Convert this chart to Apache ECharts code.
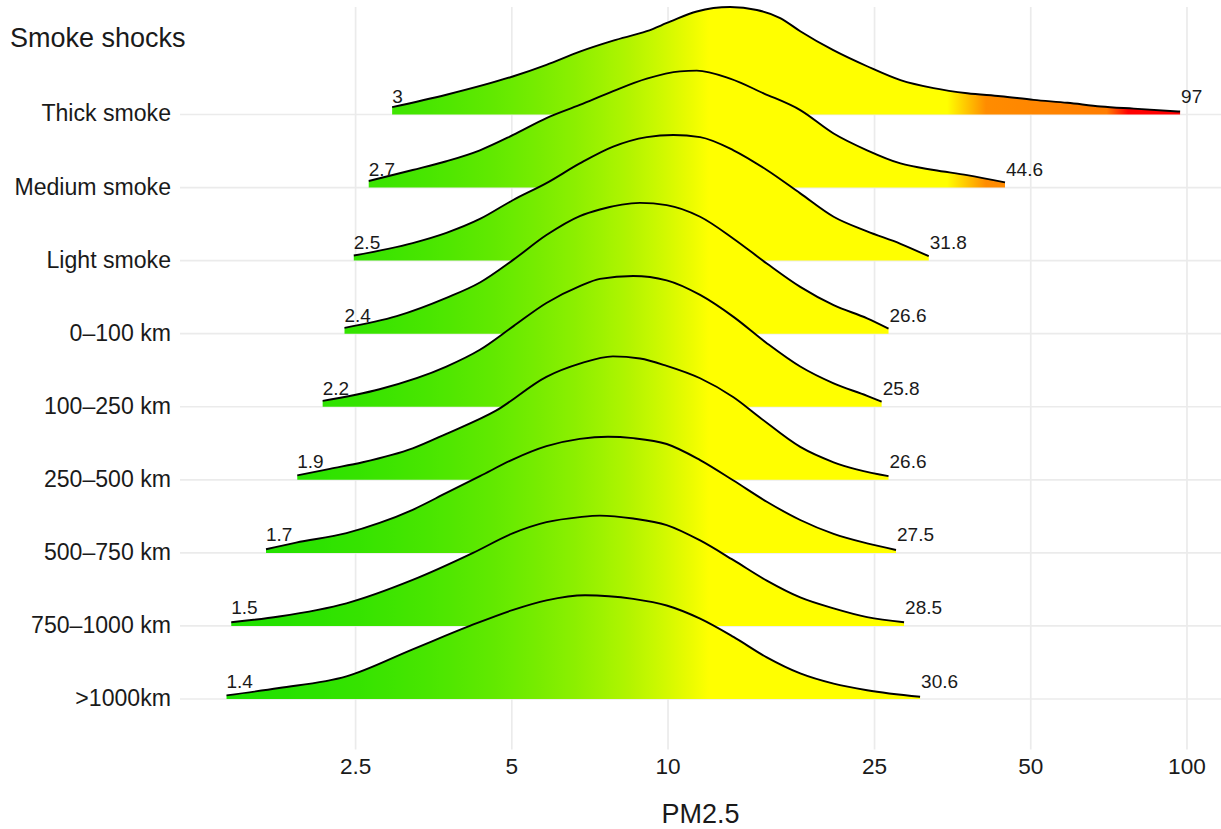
<!DOCTYPE html>
<html>
<head>
<meta charset="utf-8">
<script src="https://cdn.jsdelivr.net/npm/echarts@6/dist/echarts.min.js"></script>
<style>
html,body{margin:0;padding:0;background:#fff;}
#chart{width:1221px;height:829px;}
</style>
</head>
<body>
<div id="chart"></div>
<script>
// ---------- data ----------
const categories = ['Thick smoke','Medium smoke','Light smoke','0–100 km','100–250 km','250–500 km','500–750 km','750–1000 km','>1000km'];
const xTickValues = [2.5, 5, 10, 25, 50, 100];
const xTickLabels = ['2.5', '5', '10', '25', '50', '100'];
const minLabels = ['3','2.7','2.5','2.4','2.2','1.9','1.7','1.5','1.4'];
const maxLabels = ['97','44.6','31.8','26.6','25.8','26.6','27.5','28.5','30.6'];

// density outlines (PM2.5 value, ridge height in row units)
const thickX = [2.94, 3.74, 5.02, 5.83, 6.76, 7.84, 9.10, 10.09, 11.36, 13.17, 14.83, 16.45, 17.98, 20.82, 24.19, 28.05, 32.49, 37.73, 43.75, 50.66, 58.86, 68.23, 79.0, 97.0];
const thickH = [0.10, 0.27, 0.52, 0.68, 0.86, 1.01, 1.14, 1.27, 1.41, 1.47, 1.43, 1.32, 1.14, 0.88, 0.66, 0.47, 0.36, 0.29, 0.25, 0.20, 0.16, 0.11, 0.08, 0.04];
const mediumX = [2.65, 3.22, 3.74, 4.34, 5.03, 5.83, 6.76, 7.84, 9.10, 10.55, 11.36, 13.17, 15.28, 17.98, 20.85, 24.19, 28.05, 32.52, 37.7, 44.6];
const mediumH = [0.09, 0.24, 0.36, 0.51, 0.72, 0.95, 1.13, 1.32, 1.49, 1.59, 1.60, 1.49, 1.29, 1.06, 0.74, 0.51, 0.33, 0.24, 0.17, 0.07];
const lightX = [2.48, 3.22, 3.74, 4.34, 5.03, 5.83, 6.76, 7.84, 9.10, 10.24, 11.53, 13.37, 15.50, 17.98, 20.85, 24.19, 28.05, 31.8];
const lightH = [0.07, 0.24, 0.38, 0.57, 0.83, 1.06, 1.33, 1.56, 1.69, 1.72, 1.69, 1.51, 1.24, 0.92, 0.60, 0.40, 0.23, 0.06];
const km0X = [2.38, 3.00, 3.74, 4.34, 5.03, 5.83, 6.76, 7.39, 8.83, 9.94, 11.53, 13.37, 15.50, 17.98, 20.85, 24.19, 26.6];
const km0H = [0.08, 0.24, 0.49, 0.70, 1.01, 1.35, 1.61, 1.70, 1.79, 1.76, 1.60, 1.30, 0.96, 0.64, 0.39, 0.21, 0.07];
const km100X = [2.16, 2.78, 3.74, 4.34, 5.03, 5.83, 6.76, 7.39, 8.57, 9.94, 11.53, 13.37, 15.50, 17.98, 20.85, 24.19, 25.8];
const km100H = [0.08, 0.24, 0.55, 0.78, 1.10, 1.42, 1.65, 1.75, 1.79, 1.73, 1.53, 1.23, 0.87, 0.55, 0.32, 0.15, 0.07];
const km250X = [1.93, 2.23, 2.58, 3.22, 3.74, 4.67, 5.83, 6.76, 7.83, 8.83, 9.94, 11.53, 13.37, 15.05, 17.98, 20.85, 26.6];
const km250H = [0.06, 0.15, 0.24, 0.43, 0.63, 0.95, 1.41, 1.59, 1.69, 1.66, 1.56, 1.39, 1.13, 0.85, 0.45, 0.24, 0.05];
const km500X = [1.68, 1.92, 2.40, 2.78, 3.22, 3.74, 4.34, 5.03, 5.83, 6.76, 7.66, 8.57, 9.94, 11.53, 13.37, 15.50, 17.98, 20.85, 24.19, 27.5];
const km500H = [0.05, 0.14, 0.27, 0.41, 0.59, 0.82, 1.05, 1.28, 1.46, 1.56, 1.59, 1.57, 1.49, 1.27, 0.99, 0.70, 0.45, 0.26, 0.13, 0.04];
const km750X = [1.44, 1.78, 2.40, 3.22, 4.21, 5.03, 5.83, 6.76, 7.39, 8.57, 9.94, 11.53, 13.37, 15.50, 17.98, 20.85, 24.19, 28.5];
const km750H = [0.05, 0.13, 0.31, 0.63, 1.00, 1.27, 1.42, 1.49, 1.51, 1.47, 1.38, 1.17, 0.90, 0.62, 0.39, 0.24, 0.12, 0.05];
const km1000X = [1.41, 1.78, 2.40, 3.22, 4.15, 5.03, 5.83, 6.92, 8.57, 9.94, 11.53, 13.37, 15.50, 17.98, 20.85, 24.19, 30.6];
const km1000H = [0.05, 0.15, 0.31, 0.68, 1.00, 1.22, 1.35, 1.42, 1.37, 1.28, 1.10, 0.85, 0.57, 0.35, 0.21, 0.12, 0.03];

const ridgeX = [thickX, mediumX, lightX, km0X, km100X, km250X, km500X, km750X, km1000X];
const ridgeH = [thickH, mediumH, lightH, km0H, km100H, km250H, km500H, km750H, km1000H];

// ---------- layout / style ----------
const W = 1221, H = 829;
const GRID = {left: 180, right: 0, top: 7, bottom: 79.5};
const X_MIN = 1.147, X_MAX = 116.3;   // log axis limits of the panel
const Y_MIN = -0.691, Y_MAX = 9.471;  // panel limits in row units
const N = categories.length;
const FONT = '"Liberation Sans", Arial, Helvetica, sans-serif';
const TXT = '#1a1a1a';

// fill colour as a function of PM2.5 (green -> yellow -> orange -> red)
const colorKnots = [
  [0, [0, 220, 0]], [12, [255, 255, 0]], [34.5, [255, 255, 0]],
  [41, [255, 140, 0]], [70, [255, 125, 0]], [77, [255, 0, 0]], [1000, [255, 0, 0]]
];
function colorAt(v) {
  for (let k = 1; k < colorKnots.length; k++) {
    const [v1, c1] = colorKnots[k];
    const [v0, c0] = colorKnots[k - 1];
    if (v <= v1) {
      const t = (v - v0) / (v1 - v0);
      const c = c0.map((a, j) => Math.round(a + (c1[j] - a) * t));
      return 'rgb(' + c.join(',') + ')';
    }
  }
  return 'rgb(255,0,0)';
}
const lmin = Math.log10(X_MIN), lmax = Math.log10(X_MAX);
const stopVals = [];
for (let k = 0; k <= 60; k++) stopVals.push(Math.pow(10, lmin + (Math.log10(12.5) - lmin) * k / 60));
colorKnots.forEach(k => { if (k[0] > X_MIN && k[0] < X_MAX) stopVals.push(k[0]); });
stopVals.push(X_MAX);
stopVals.sort((a, b) => a - b);
const stops = stopVals.map(v => ({offset: (Math.log10(v) - lmin) / (lmax - lmin), color: colorAt(v)}));
const fill = new echarts.graphic.LinearGradient(GRID.left, 0, W - GRID.right, 0, stops, true);

function textStyle(text, size, align, valign) {
  return {text: text, fill: TXT, font: size + 'px ' + FONT,
          textAlign: align, textVerticalAlign: valign};
}

function renderFrame(params, api) {
  const children = [];
  const yTop = api.coord([X_MIN, Y_MAX])[1];
  const yBot = api.coord([X_MIN, Y_MIN])[1];
  const xL = api.coord([X_MIN, 0])[0];
  const xR = api.coord([X_MAX, 0])[0];
  xTickValues.forEach((v, k) => {
    const x = api.coord([v, 0])[0];
    children.push({type: 'line', shape: {x1: x, y1: yTop, x2: x, y2: yBot},
                   style: {stroke: '#ebebeb', lineWidth: 1.7}});
    children.push({type: 'text', x: x, y: yBot + 16.5, style: textStyle(xTickLabels[k], 22.6, 'center', 'middle')});
  });
  categories.forEach((c, i) => {
    const y = api.coord([X_MIN, N - 1 - i])[1];
    children.push({type: 'line', shape: {x1: xL, y1: y, x2: xR, y2: y},
                   style: {stroke: '#ebebeb', lineWidth: 1.7}});
    children.push({type: 'text', x: xL - 9, y: y - 1, style: textStyle(c, 23.1, 'right', 'middle')});
  });
  children.push({type: 'text', x: (xL + xR) / 2, y: yBot + 64, style: textStyle('PM2.5', 27, 'center', 'middle')});
  children.push({type: 'text', x: 10, y: 38, style: textStyle('Smoke shocks', 27, 'left', 'middle')});
  return {type: 'group', children: children};
}

// monotone (Steffen) cubic through pixel points -> bezier path segments
function curveSegments(pts) {
  const n = pts.length, h = [], s = [], m = [];
  for (let i = 0; i < n - 1; i++) {
    h[i] = pts[i + 1][0] - pts[i][0];
    s[i] = (pts[i + 1][1] - pts[i][1]) / h[i];
  }
  for (let i = 1; i < n - 1; i++) {
    const p = (s[i - 1] * h[i] + s[i] * h[i - 1]) / (h[i - 1] + h[i]);
    m[i] = (Math.sign(s[i - 1]) + Math.sign(s[i])) *
           Math.min(Math.abs(s[i - 1]), Math.abs(s[i]), 0.5 * Math.abs(p)) || 0;
  }
  m[0] = (3 * s[0] - m[1]) / 2;
  m[n - 1] = (3 * s[n - 2] - m[n - 2]) / 2;
  let d = '';
  for (let i = 0; i < n - 1; i++) {
    const dx = h[i] / 3;
    d += ' C' + (pts[i][0] + dx) + ',' + (pts[i][1] + m[i] * dx) + ' ' +
         (pts[i + 1][0] - dx) + ',' + (pts[i + 1][1] - m[i + 1] * dx) + ' ' +
         pts[i + 1][0] + ',' + pts[i + 1][1];
  }
  return d;
}

function makeRidgeRenderer(i) {
  return function (params, api) {
    const b = N - 1 - i;
    const pts = ridgeX[i].map((x, j) => api.coord([x, b + ridgeH[i][j]]));
    const first = pts[0], last = pts[pts.length - 1];
    const yb = api.coord([ridgeX[i][0], b])[1];
    const seg = curveSegments(pts);
    const areaD = 'M' + first[0] + ',' + yb + ' L' + first[0] + ',' + first[1] + seg +
                  ' L' + last[0] + ',' + yb + ' Z';
    const lineD = 'M' + first[0] + ',' + first[1] + seg;
    return {type: 'group', children: [
      {type: 'path', shape: {pathData: areaD}, style: {fill: fill, stroke: 'none'}},
      {type: 'path', shape: {pathData: lineD}, style: {fill: 'none', stroke: '#000', lineWidth: 1.9, lineJoin: 'round'}}
    ]};
  };
}

const labelData = [];
ridgeX.forEach((xs, i) => {
  labelData.push([xs[0], N - 1 - i, i, 0]);
  labelData.push([xs[xs.length - 1], N - 1 - i, i, 1]);
});
function renderLabels(params, api) {
  const p = api.coord([api.value(0), api.value(1)]);
  const i = api.value(2), side = api.value(3);
  const txt = side === 0 ? minLabels[i] : maxLabels[i];
  return {type: 'text', x: p[0] + (side === 0 ? 0 : 1), y: p[1] - 18,
          style: textStyle(txt, 19, 'left', 'middle')};
}

const series = [{
  type: 'custom', renderItem: renderFrame, data: [[X_MIN, 0]], z: 0, silent: true,
  encode: {x: 0, y: 1}
}];
ridgeX.forEach((xs, i) => {
  series.push({
    type: 'custom', name: categories[i], renderItem: makeRidgeRenderer(i),
    data: [[xs[0], N - 1 - i]], encode: {x: 0, y: 1}, z: 2, silent: true
  });
});
series.push({
  type: 'custom', renderItem: renderLabels, data: labelData, z: 5, silent: true,
  encode: {x: 0, y: 1}
});

const chart = echarts.init(document.getElementById('chart'), null, {renderer: 'svg', width: W, height: H});
chart.setOption({
  animation: false,
  backgroundColor: '#fff',
  grid: {left: GRID.left, right: GRID.right, top: GRID.top, bottom: GRID.bottom, containLabel: false},
  xAxis: {type: 'log', logBase: 10, min: X_MIN, max: X_MAX, show: false},
  yAxis: {type: 'value', min: Y_MIN, max: Y_MAX, show: false},
  series: series
});
</script>
</body>
</html>
